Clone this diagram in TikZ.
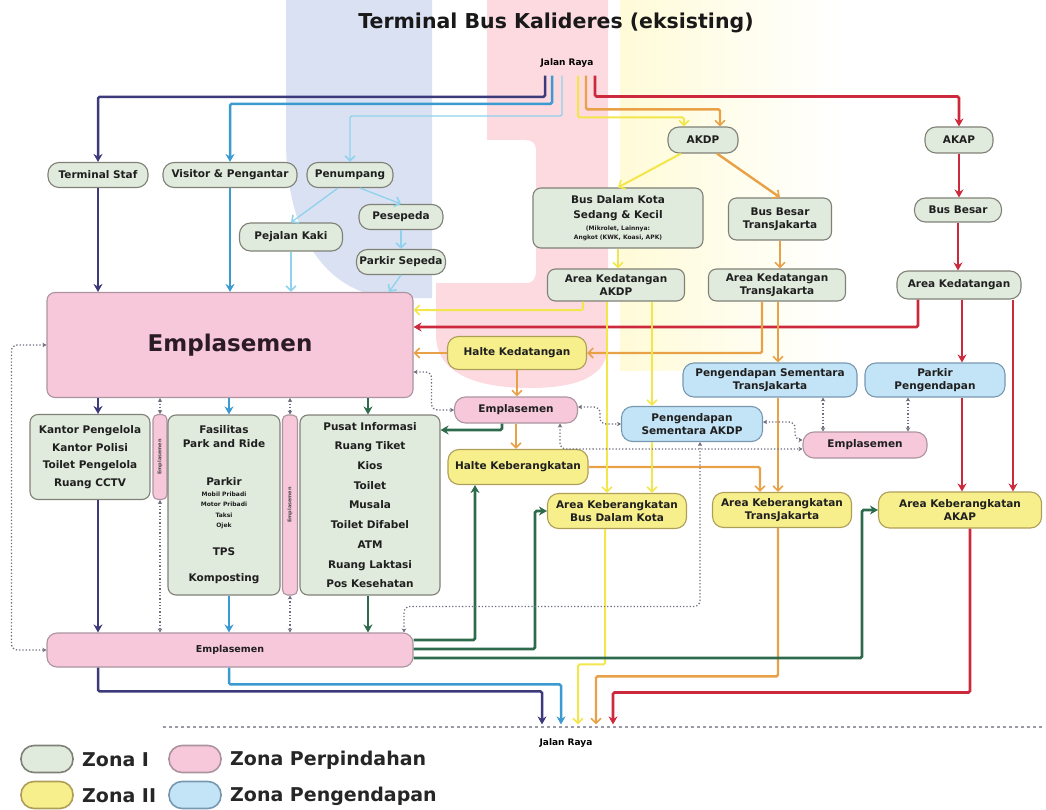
\documentclass[tikz,border=0pt]{standalone}
\usepackage{fontspec}
\setmainfont{DejaVu Sans}
\usetikzlibrary{arrows.meta,calc}

% zone fills and outlines
\definecolor{zIfill}{HTML}{E1EBDD}
\definecolor{zIdraw}{HTML}{7F8177}
\definecolor{zIIfill}{HTML}{F7EF8C}
\definecolor{zIIdraw}{HTML}{AE9E58}
\definecolor{zPfill}{HTML}{F7C8DA}
\definecolor{zPdraw}{HTML}{AC93A0}
\definecolor{zBfill}{HTML}{C3E4F6}
\definecolor{zBdraw}{HTML}{7898B2}
% flow colours
\definecolor{cNavy}{HTML}{3D3A7C}
\definecolor{cBlue}{HTML}{3B9AD0}
\definecolor{cLight}{HTML}{8ED2EC}
\definecolor{cYel}{HTML}{F3E64A}
\definecolor{cOrg}{HTML}{E8A146}
\definecolor{cRed}{HTML}{CC2A3C}
\definecolor{cGreen}{HTML}{2D6B4C}
\definecolor{cDot}{HTML}{6E6E80}
% background logo tints
\definecolor{wmBlue}{HTML}{DAE1F2}
\definecolor{wmPink}{HTML}{FDDAE0}
\definecolor{wmYel}{HTML}{FFFBD8}

\newcommand\nodefont{\bfseries\fontsize{10.5}{12.5}\selectfont}
\newcommand\smallfont{\fontsize{6}{7}\selectfont}

\tikzset{
  box/.style={draw, line width=1.1pt, align=center, inner sep=1pt, font=\nodefont, text=black!88},
  zI/.style={box, fill=zIfill, draw=zIdraw},
  zII/.style={box, fill=zIIfill, draw=zIIdraw},
  zP/.style={box, fill=zPfill, draw=zPdraw},
  zB/.style={box, fill=zBfill, draw=zBdraw},
  pill/.style={rounded corners=11pt},
  card/.style={rounded corners=8pt},
  solidtip/.style={-{Stealth[length=8pt,width=9pt]}},
  chevtip/.style={-{Straight Barb[length=5pt,width=10pt,line width=1.6pt]}},
  lnNavy/.style={cNavy, line width=2.5pt, solidtip, rounded corners=1.5pt},
  lnBlue/.style={cBlue, line width=2.5pt, solidtip, rounded corners=1.5pt},
  lnLight/.style={cLight, line width=1.3pt, chevtip, rounded corners=1.5pt},
  lnYel/.style={cYel, line width=2pt, chevtip, rounded corners=1.5pt},
  lnOrg/.style={cOrg, line width=2.4pt, chevtip, rounded corners=1.5pt},
  lnRed/.style={cRed, line width=2.7pt, solidtip, rounded corners=1.5pt},
  lnGreen/.style={cGreen, line width=2.7pt, solidtip, rounded corners=1.5pt},
  lnDots/.style={cDot, line width=1.3pt, dotted, rounded corners=6pt,
    {Stealth[length=4pt,width=4.5pt]}-{Stealth[length=4pt,width=4.5pt]}},
  road/.style={cDot!70, line width=1.4pt, dash pattern=on 2.5pt off 3.5pt},
  legtext/.style={font=\bfseries\fontsize{19}{22}\selectfont, text=black!85, anchor=west, inner sep=0pt},
  legpill/.style={line width=1.6pt, rounded corners=13pt, minimum width=52, minimum height=27}
}

\begin{document}
\begin{tikzpicture}[x=1pt,y=-1pt]
\useasboundingbox (0,0) rectangle (1046,810);

% ---------- faint logo in the background ----------
\fill[wmBlue] (286,0) -- (432,0) -- (432,298) -- (395,298)
  .. controls (330,296) and (286,240) .. (286,140) -- cycle;
\fill[wmPink] (487,0) -- (608,0) -- (608,345)
  .. controls (608,375) and (580,388) .. (530,388)
  .. controls (470,388) and (436,370) .. (436,335) -- (436,283) -- (526,283)
  .. controls (534,283) and (536,278) .. (536,270) -- (536,150)
  .. controls (536,143) and (532,140) .. (525,140) -- (487,140) -- cycle;
\shade[left color=wmYel, right color=white] (620,0) rectangle (840,370);

% ---------- titles ----------
\node[font=\bfseries\fontsize{20.5}{24}\selectfont, text=black!90] (title) at (556,23) {Terminal Bus Kalideres (eksisting)};
\node[font=\bfseries\fontsize{9}{10}\selectfont, inner sep=1pt] (jr) at (567,63) {Jalan Raya};
\node[font=\bfseries\fontsize{9}{10}\selectfont, inner sep=1pt] (jr2) at (566,743) {Jalan Raya};

% ---------- entry side ----------
\node[zI, pill, minimum width=100, minimum height=25] (staf) at (98,175) {Terminal Staf};
\node[zI, pill, minimum width=134, minimum height=25] (vis) at (230,175) {Visitor \& Pengantar};
\node[zI, pill, minimum width=86, minimum height=25] (pen) at (350,175) {Penumpang};
\node[zI, pill, minimum width=103, minimum height=28] (pjk) at (291,237) {Pejalan Kaki};
\node[zI, pill, minimum width=84, minimum height=25] (pes) at (401,217) {Pesepeda};
\node[zI, pill, minimum width=89, minimum height=25] (ps) at (401,262) {Parkir Sepeda};

\node[zI, pill, minimum width=70, minimum height=26] (akdp) at (703,140) {AKDP};
\node[zI, pill, minimum width=68, minimum height=26] (akap) at (959,140) {AKAP};
\node[zI, card, minimum width=170, minimum height=60, font=\bfseries\fontsize{10.5}{15}\selectfont] (bdk) at (618,218)
  {Bus Dalam Kota\\Sedang \& Kecil\\[-3pt]{\smallfont (Mikrolet, Lainnya:}\\[-6pt]{\smallfont Angkot (KWK, Koasi, APK)}};
\node[zI, card, minimum width=103, minimum height=42] (bbtj) at (780,219) {Bus Besar\\TransJakarta};
\node[zI, pill, minimum width=87, minimum height=24] (bb) at (958,210) {Bus Besar};
\node[zI, card, minimum width=137, minimum height=32] (akd) at (616,285) {Area Kedatangan\\AKDP};
\node[zI, card, minimum width=137, minimum height=32] (akt) at (777,285) {Area Kedatangan\\TransJakarta};
\node[zI, pill, minimum width=124, minimum height=28] (akr) at (959,285) {Area Kedatangan};

% ---------- concourse ----------
\node[zP, card, minimum width=366, minimum height=105, font=\bfseries\fontsize{23}{28}\selectfont, text={rgb,255:red,43;green,27;blue,37}] (emp) at (230,345) {Emplasemen};
\node[zII, pill, minimum width=139, minimum height=33] (hk) at (517,353) {Halte Kedatangan};
\node[zP, pill, minimum width=123, minimum height=26] (em2) at (516,410) {Emplasemen};
\node[zII, pill, minimum width=140, minimum height=35] (hkb) at (518,467) {Halte Keberangkatan};
\node[zB, pill, minimum width=141, minimum height=35] (psa) at (692,424) {Pengendapan\\Sementara AKDP};
\node[zB, pill, minimum width=174, minimum height=34] (ptj) at (770,380) {Pengendapan Sementara\\TransJakarta};
\node[zB, pill, minimum width=140, minimum height=34] (ppg) at (935,380) {Parkir\\Pengendapan};
\node[zP, pill, minimum width=124, minimum height=26] (em3) at (865,445) {Emplasemen};
\node[zII, pill, minimum width=139, minimum height=35] (akbdk) at (617,511) {Area Keberangkatan\\Bus Dalam Kota};
\node[zII, pill, minimum width=139, minimum height=35] (akb2) at (782,510) {Area Keberangkatan\\TransJakarta};
\node[zII, pill, minimum width=163, minimum height=36] (akap2) at (960,510) {Area Keberangkatan\\AKAP};

% ---------- facility blocks ----------
\node[zI, card, minimum width=120, minimum height=85, font=\bfseries\fontsize{10.5}{17.7}\selectfont] (kan) at (90,457)
  {Kantor Pengelola\\Kantor Polisi\\Toilet Pengelola\\Ruang CCTV};
\node[zP, rounded corners=5pt, minimum width=14, minimum height=85] (te1) at (160,457) {};
\node[rotate=90, font=\bfseries\fontsize{5}{6}\selectfont, text=black!70, inner sep=0pt] (te1t) at (te1) {Emplasemen};
\node[zI, card, minimum width=112, minimum height=180, font=\bfseries\fontsize{10.5}{14}\selectfont] (fas) at (224,505)
  {Fasilitas\\Park and Ride\\[24pt]Parkir\\[-3pt]{\smallfont Mobil Pribadi}\\[-4pt]{\smallfont Motor Pribadi}\\[-3pt]{\smallfont Taksi}\\[-4pt]{\smallfont Ojek}\\[14pt]TPS\\[12pt]Komposting};
\node[zP, rounded corners=5pt, minimum width=15, minimum height=180] (te2) at (290,505) {};
\node[rotate=90, font=\bfseries\fontsize{5}{6}\selectfont, text=black!70, inner sep=0pt] (te2t) at (te2) {Emplasemen};
\node[zI, card, minimum width=140, minimum height=180, font=\bfseries\fontsize{10.5}{19.7}\selectfont] (pus) at (370,505)
  {Pusat Informasi\\Ruang Tiket\\Kios\\Toilet\\Musala\\Toilet Difabel\\ATM\\Ruang Laktasi\\Pos Kesehatan};
\node[zP, rounded corners=10pt, minimum width=366, minimum height=34, font=\bfseries\fontsize{9.5}{11}\selectfont] (emb) at (230,650) {Emplasemen};

% ---------- road edge at the exit ----------
\coordinate (roadW) at (163,727);
\coordinate (roadE) at (1042,727);
\draw[road] (roadW) -- (roadE);

% ---------- flows from the road ----------
\draw[lnNavy] ($(jr.south)+(-22,7)$) |- ($(staf.north)+(0,-65)$) -- (staf.north);
\draw[lnBlue] ($(jr.south)+(-15,7)$) |- ($(vis.north)+(0,-58)$) -- (vis.north);
\draw[lnLight] ($(jr.south)+(-5,7)$) |- ($(pen.north)+(0,-46)$) -- (pen.north);
\draw[lnYel] ($(jr.south)+(11,7)$) |- ($(akdp.north)+(-19,-9)$) -- ($(akdp.north)+(-19,0)$);
\draw[lnOrg] ($(jr.south)+(19,7)$) |- ($(akdp.north)+(17,-17)$) -- ($(akdp.north)+(17,0)$);
\draw[lnRed] ($(jr.south)+(28,7)$) |- ($(akap.north)+(0,-30)$) -- (akap.north);

% passengers on foot and by bicycle
\draw[lnLight] ($(pen.south)+(-12,0)$) -- (pjk.north);
\draw[lnLight] ($(pen.south)+(10,0)$) -- (pes.north);
\draw[lnLight] (pes.south) -- (ps.north);
\draw[lnLight] (pjk.south) -- (pjk.south |- emp.north);
\draw[lnLight] (ps.south) -- ($(emp.north)+(159,0)$);
\draw[lnNavy] (staf.south) -- (staf.south |- emp.north);
\draw[lnBlue] (vis.south) -- (vis.south |- emp.north);

% bus arrivals
\draw[lnYel] ($(akdp.south)+(-22,0)$) -- (bdk.north);
\draw[lnOrg] ($(akdp.south)+(14,0)$) -- (bbtj.north);
\draw[lnYel] (bdk.south) -- (bdk.south |- akd.north);
\draw[lnOrg] (bbtj.south) -- (bbtj.south |- akt.north);
\draw[lnRed] (akap.south) -- (akap.south |- bb.north);
\draw[lnRed] (bb.south) -- (bb.south |- akr.north);

% arrivals into the concourse
\draw[lnYel] ($(akd.south)+(-33,0)$) |- ($(emp.east)+(0,-35)$);
\draw[lnRed] ($(akr.south)+(-41,0)$) |- ($(emp.east)+(0,-18)$);
\draw[lnOrg] ($(akt.south)+(-15,0)$) |- (hk.east);
\draw[lnOrg] (hk.west) -- (hk.west -| emp.east);
\draw[lnOrg] (hk.south) -- (hk.south |- em2.north);
\draw[lnOrg] (em2.south) -- (em2.south |- hkb.north);

% TransJakarta
\draw[lnOrg] (hkb.east) -| ($(akb2.north)+(-22,0)$);
\draw[lnOrg] ($(akt.south)+(1,0)$) -- ($(ptj.north)+(8,0)$);
\draw[lnOrg] ($(ptj.south)+(8,0)$) -- ($(akb2.north)+(-4,0)$);
\draw[lnOrg] ($(akb2.south)+(-4,0)$) |- ($(jr2.north)+(30,-61)$) -- ($(jr2.north)+(30,-13)$);

% AKAP
\draw[lnRed] ($(akr.south)+(3,0)$) -- ($(ppg.north)+(27,0)$);
\draw[lnRed] ($(akr.south)+(54,0)$) -- ($(akap2.north)+(53,0)$);
\draw[lnRed] ($(ppg.south)+(27,0)$) -- ($(akap2.north)+(2,0)$);
\draw[lnRed] ($(akap2.south)+(10,0)$) |- ($(jr2.north)+(47,-45)$) -- ($(jr2.north)+(47,-13)$);

% AKDP
\draw[lnYel] ($(akd.south)+(-9,0)$) -- ($(akbdk.north)+(-10,0)$);
\draw[lnYel] ($(akd.south)+(36,0)$) -- ($(psa.north)+(-40,0)$);
\draw[lnYel] ($(psa.south)+(-40,0)$) -- ($(akbdk.north)+(35,0)$);
\draw[lnYel] ($(akbdk.south)+(-12,0)$) |- ($(jr2.north)+(12,-73)$) -- ($(jr2.north)+(12,-13)$);

% departing passengers
\draw[lnGreen] ($(emp.south)+(138,0)$) -- ($(pus.north)+(-2,0)$);
\draw[lnGreen] ($(em2.south)+(-14,0)$) |- ($(pus.east)+(0,-75)$);
\draw[lnGreen] ($(pus.south)+(-2,0)$) -- ($(emb.north)+(138,0)$);
\draw[lnGreen] ($(emb.east)+(0,-10)$) -| ($(hkb.south)+(-43,0)$);
\draw[lnGreen] ($(emb.east)+(0,-1)$) -| ($(akbdk.west)+(-12,0)$) -- (akbdk.west);
\draw[lnGreen] ($(emb.east)+(0,8)$) -| ($(akap2.west)+(-16,0)$) -- (akap2.west);

% staff and visitors leaving
\draw[lnNavy] ($(emp.south)+(-132,0)$) -- ($(kan.north)+(8,0)$);
\draw[lnNavy] ($(kan.south)+(8,0)$) -- ($(emb.north)+(-132,0)$);
\draw[lnNavy] ($(emb.south)+(-132,0)$) |- ($(jr2.north)+(-24,-46)$) -- ($(jr2.north)+(-24,-13)$);
\draw[lnBlue] ($(emp.south)+(-1,0)$) -- ($(fas.north)+(5,0)$);
\draw[lnBlue] ($(fas.south)+(5,0)$) -- ($(emb.north)+(-1,0)$);
\draw[lnBlue] ($(emb.south)+(-1,0)$) |- ($(jr2.north)+(-5,-53)$) -- ($(jr2.north)+(-5,-13)$);

% two-way walkways
\draw[lnDots] ($(emp.south)+(-70,0)$) -- (te1.north);
\draw[lnDots] (te1.south) -- ($(emb.north)+(-70,0)$);
\draw[lnDots] ($(emp.south)+(60,0)$) -- (te2.north);
\draw[lnDots] (te2.south) -- ($(emb.north)+(60,0)$);
\draw[lnDots] (emp.west) -- ++(-35,0) |- (emb.west);
\draw[lnDots] ($(emp.east)+(0,27)$) -- ++(18,0) |- (em2.west);
\draw[lnDots] ($(em2.east)+(0,-3)$) -- ++(22,0) |- (psa.west);
\draw[lnDots] ($(em2.south)+(44,0)$) |- ($(em3.west)+(0,4)$);
\draw[lnDots] ($(psa.east)+(0,-2)$) -- ++(32,0) |- ($(em3.west)+(0,-5)$);
\draw[lnDots] ($(ptj.south)+(53,0)$) -- ($(em3.north)+(-42,0)$);
\draw[lnDots] ($(ppg.south)+(-27,0)$) -- ($(em3.north)+(43,0)$);
\draw[lnDots] ($(psa.south)+(8,0)$) |- ($(emb.north)+(174,-26)$) -- ($(emb.north)+(174,0)$);

% ---------- legend ----------
\node[legpill, fill=zIfill, draw=zIdraw] (lg1) at (47,759) {};
\node[legtext] (lg1t) at (82,760) {Zona I};
\node[legpill, fill=zIIfill, draw=zIIdraw] (lg2) at (47,795) {};
\node[legtext] (lg2t) at (82,796) {Zona II};
\node[legpill, fill=zPfill, draw=zPdraw] (lg3) at (195,759) {};
\node[legtext] (lg3t) at (230,760) {Zona Perpindahan};
\node[legpill, fill=zBfill, draw=zBdraw] (lg4) at (195,795) {};
\node[legtext] (lg4t) at (230,796) {Zona Pengendapan};
\end{tikzpicture}
\end{document}
